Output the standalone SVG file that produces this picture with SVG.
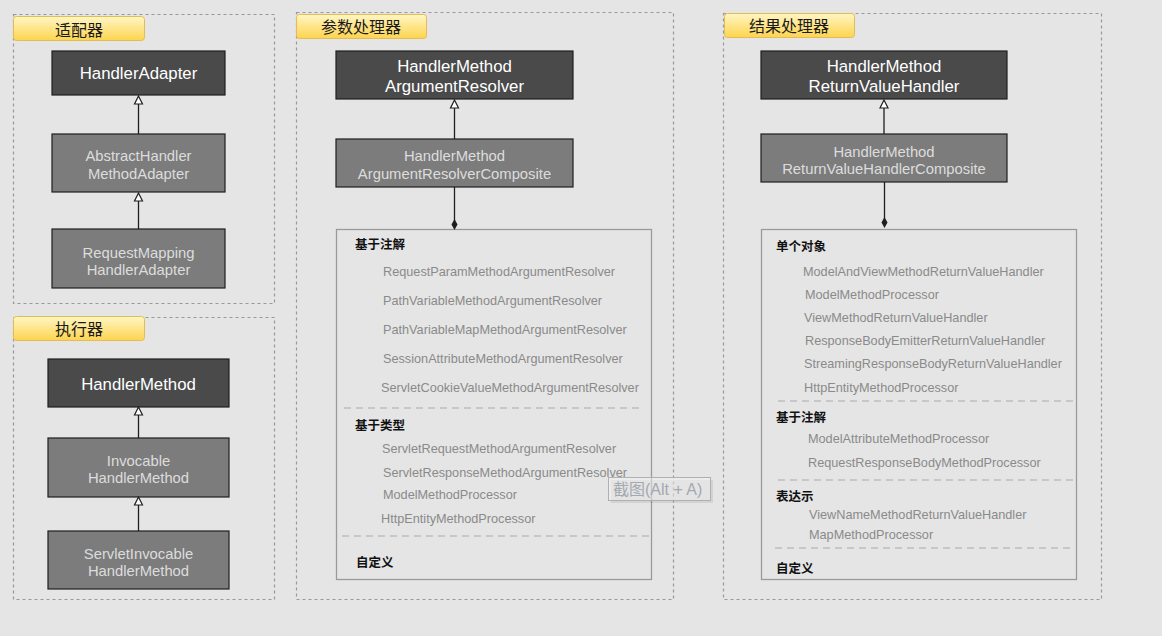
<svg xmlns="http://www.w3.org/2000/svg" width="1162" height="636" viewBox="0 0 1162 636">
<style>
.bg{fill:#e5e5e5}
.panel{fill:none;stroke:#999;stroke-width:1.2;stroke-dasharray:3 3}
.lbl{fill:url(#yel);stroke:#e2bd55;stroke-width:1}
.lt{font-family:"Liberation Sans","Noto Sans CJK SC",sans-serif;font-size:16px;fill:#1a1a1a;text-anchor:middle}
.dark{fill:#4a4a4a;stroke:#1e1e1e;stroke-width:1.2}
.mid{fill:#7c7c7c;stroke:#1e1e1e;stroke-width:1.2}
.dt{font-family:"Liberation Sans",sans-serif;font-size:16.8px;fill:#fff;text-anchor:middle}
.mt{font-family:"Liberation Sans",sans-serif;font-size:14.8px;fill:#dcdcdc;text-anchor:middle}
.list{fill:none;stroke:#9a9a9a;stroke-width:1.3}
.it{font-family:"Liberation Sans",sans-serif;font-size:12.7px;fill:#8a8a8a}
.hd{font-family:"Noto Sans CJK SC","Liberation Sans",sans-serif;font-size:12.5px;font-weight:bold;fill:#111}
.sep{stroke:#bdbdbd;stroke-width:1.6;stroke-dasharray:7 5;fill:none}
.ln{stroke:#1e1e1e;stroke-width:1.3;fill:none}
.tri{fill:#fff;stroke:#1e1e1e;stroke-width:1.2}
.dia{fill:#1e1e1e}
</style>
<defs>
<linearGradient id="yel" x1="0" y1="0" x2="0" y2="1">
<stop offset="0" stop-color="#fff6c4"/>
<stop offset="1" stop-color="#fdd44e"/>
</linearGradient>
</defs>
<rect class="bg" x="0" y="0" width="1162" height="636"/>

<g id="panel-adapter">
<rect class="panel" x="13.5" y="14.5" width="261" height="289"/>
<rect class="lbl" x="13.5" y="16.5" width="131" height="24" rx="3"/>
<text class="lt" x="79" y="35.5">适配器</text>
</g>
<g id="panel-executor">
<rect class="panel" x="13.5" y="317.5" width="261" height="282"/>
<rect class="lbl" x="13.5" y="316.5" width="131" height="24" rx="3"/>
<text class="lt" x="79" y="334.5">执行器</text>
</g>
<g id="panel-argument">
<rect class="panel" x="296.5" y="12.5" width="377" height="587"/>
<rect class="lbl" x="296.5" y="14.5" width="130" height="24" rx="3"/>
<text class="lt" x="361" y="32.5">参数处理器</text>
</g>
<g id="panel-return">
<rect class="panel" x="723.5" y="13.5" width="378" height="586"/>
<rect class="lbl" x="724.5" y="13.5" width="130" height="24" rx="3"/>
<text class="lt" x="789" y="31.5">结果处理器</text>
</g>

<g id="HandlerAdapter">
<rect class="dark" x="52" y="51" width="173" height="44"/>
<text class="dt" x="138.5" y="79">HandlerAdapter</text>
</g>
<g id="AbstractHandlerMethodAdapter">
<rect class="mid" x="52" y="134" width="173" height="58"/>
<text class="mt" x="138.5" y="161">AbstractHandler</text>
<text class="mt" x="138.5" y="178.5">MethodAdapter</text>
</g>
<g id="RequestMappingHandlerAdapter">
<rect class="mid" x="52" y="229" width="173" height="59"/>
<text class="mt" x="138.5" y="257.5">RequestMapping</text>
<text class="mt" x="138.5" y="274.5">HandlerAdapter</text>
</g>

<g id="HandlerMethod">
<rect class="dark" x="48" y="359" width="181" height="48"/>
<text class="dt" x="138.5" y="389.5">HandlerMethod</text>
</g>
<g id="InvocableHandlerMethod">
<rect class="mid" x="48" y="438" width="181" height="59"/>
<text class="mt" x="138.5" y="465.5">Invocable</text>
<text class="mt" x="138.5" y="483">HandlerMethod</text>
</g>
<g id="ServletInvocableHandlerMethod">
<rect class="mid" x="48" y="531" width="181" height="58"/>
<text class="mt" x="138.5" y="559">ServletInvocable</text>
<text class="mt" x="138.5" y="575.5">HandlerMethod</text>
</g>

<g id="HandlerMethodArgumentResolver">
<rect class="dark" x="336" y="51" width="237" height="48"/>
<text class="dt" x="454.5" y="72">HandlerMethod</text>
<text class="dt" x="454.5" y="92">ArgumentResolver</text>
</g>
<g id="HandlerMethodArgumentResolverComposite">
<rect class="mid" x="336" y="139" width="237" height="48"/>
<text class="mt" x="454.5" y="161">HandlerMethod</text>
<text class="mt" x="454.5" y="178.5">ArgumentResolverComposite</text>
</g>
<g id="ArgumentResolverList">
<rect class="list" x="336.5" y="229.5" width="315" height="350"/>
<text class="hd" x="355" y="249">基于注解</text>
<text class="it" x="383" y="275.5">RequestParamMethodArgumentResolver</text>
<text class="it" x="383" y="304.5">PathVariableMethodArgumentResolver</text>
<text class="it" x="383" y="333.5">PathVariableMapMethodArgumentResolver</text>
<text class="it" x="383" y="362.5">SessionAttributeMethodArgumentResolver</text>
<text class="it" x="381" y="391.5">ServletCookieValueMethodArgumentResolver</text>
<line class="sep" x1="344" y1="408" x2="644" y2="408"/>
<text class="hd" x="355" y="430">基于类型</text>
<text class="it" x="382" y="452.5">ServletRequestMethodArgumentResolver</text>
<text class="it" x="383" y="476.5">ServletResponseMethodArgumentResolver</text>
<text class="it" x="383" y="498.5">ModelMethodProcessor</text>
<text class="it" x="381" y="522.5">HttpEntityMethodProcessor</text>
<line class="sep" x1="342" y1="536" x2="650" y2="536"/>
<text class="hd" x="356" y="567">自定义</text>
</g>

<g id="HandlerMethodReturnValueHandler">
<rect class="dark" x="761" y="51" width="246" height="48"/>
<text class="dt" x="884" y="72">HandlerMethod</text>
<text class="dt" x="884" y="92">ReturnValueHandler</text>
</g>
<g id="HandlerMethodReturnValueHandlerComposite">
<rect class="mid" x="761" y="134" width="246" height="48"/>
<text class="mt" x="884" y="157">HandlerMethod</text>
<text class="mt" x="884" y="174">ReturnValueHandlerComposite</text>
</g>
<g id="ReturnValueHandlerList">
<rect class="list" x="761.5" y="229.5" width="315" height="350"/>
<text class="hd" x="776" y="250.5">单个对象</text>
<text class="it" x="803" y="275.5">ModelAndViewMethodReturnValueHandler</text>
<text class="it" x="805" y="298.5">ModelMethodProcessor</text>
<text class="it" x="804" y="321.5">ViewMethodReturnValueHandler</text>
<text class="it" x="805" y="344.5">ResponseBodyEmitterReturnValueHandler</text>
<text class="it" x="804" y="367.5">StreamingResponseBodyReturnValueHandler</text>
<text class="it" x="804" y="391.5">HttpEntityMethodProcessor</text>
<line class="sep" x1="778" y1="401" x2="1077" y2="401"/>
<text class="hd" x="776" y="421.5">基于注解</text>
<text class="it" x="808" y="442.5">ModelAttributeMethodProcessor</text>
<text class="it" x="808" y="466.5">RequestResponseBodyMethodProcessor</text>
<line class="sep" x1="778" y1="480" x2="1077" y2="480"/>
<text class="hd" x="776" y="500.5">表达示</text>
<text class="it" x="809" y="518.5">ViewNameMethodReturnValueHandler</text>
<text class="it" x="809" y="538.5">MapMethodProcessor</text>
<line class="sep" x1="775" y1="548" x2="1075" y2="548"/>
<text class="hd" x="776" y="572.5">自定义</text>
</g>

<g id="connectors">
<line class="ln" x1="138.5" y1="104" x2="138.5" y2="134"/>
<polygon class="tri" points="138.5,96 134.5,104 142.5,104"/>
<line class="ln" x1="138.5" y1="201" x2="138.5" y2="229"/>
<polygon class="tri" points="138.5,193 134.5,201 142.5,201"/>
<line class="ln" x1="138.5" y1="415" x2="138.5" y2="438"/>
<polygon class="tri" points="138.5,407 134.5,415 142.5,415"/>
<line class="ln" x1="138.5" y1="505" x2="138.5" y2="531"/>
<polygon class="tri" points="138.5,497 134.5,505 142.5,505"/>
<line class="ln" x1="454.5" y1="108" x2="454.5" y2="139"/>
<polygon class="tri" points="454.5,100 450.5,108 458.5,108"/>
<line class="ln" x1="454.5" y1="187" x2="454.5" y2="222"/>
<polygon class="dia" points="454.5,219 457.5,224.5 454.5,230 451.5,224.5"/>
<line class="ln" x1="884" y1="108" x2="884" y2="134"/>
<polygon class="tri" points="884,100 880,108 888,108"/>
<line class="ln" x1="884.5" y1="182" x2="884.5" y2="220"/>
<polygon class="dia" points="884.5,217 887.5,222.5 884.5,228 881.5,222.5"/>
</g>

<g id="tooltip">
<rect x="611" y="480" width="102" height="23" fill="#000" opacity="0.08"/>
<rect x="608.5" y="477.5" width="102" height="23" fill="#f2f2f2" fill-opacity="0.55" stroke="#b0b0b0" stroke-width="1"/>
<text x="613" y="495" font-family="'Liberation Sans','Noto Sans CJK SC',sans-serif" font-size="16px" fill="#a3a9b0">截图(Alt + A)</text>
</g>
</svg>
